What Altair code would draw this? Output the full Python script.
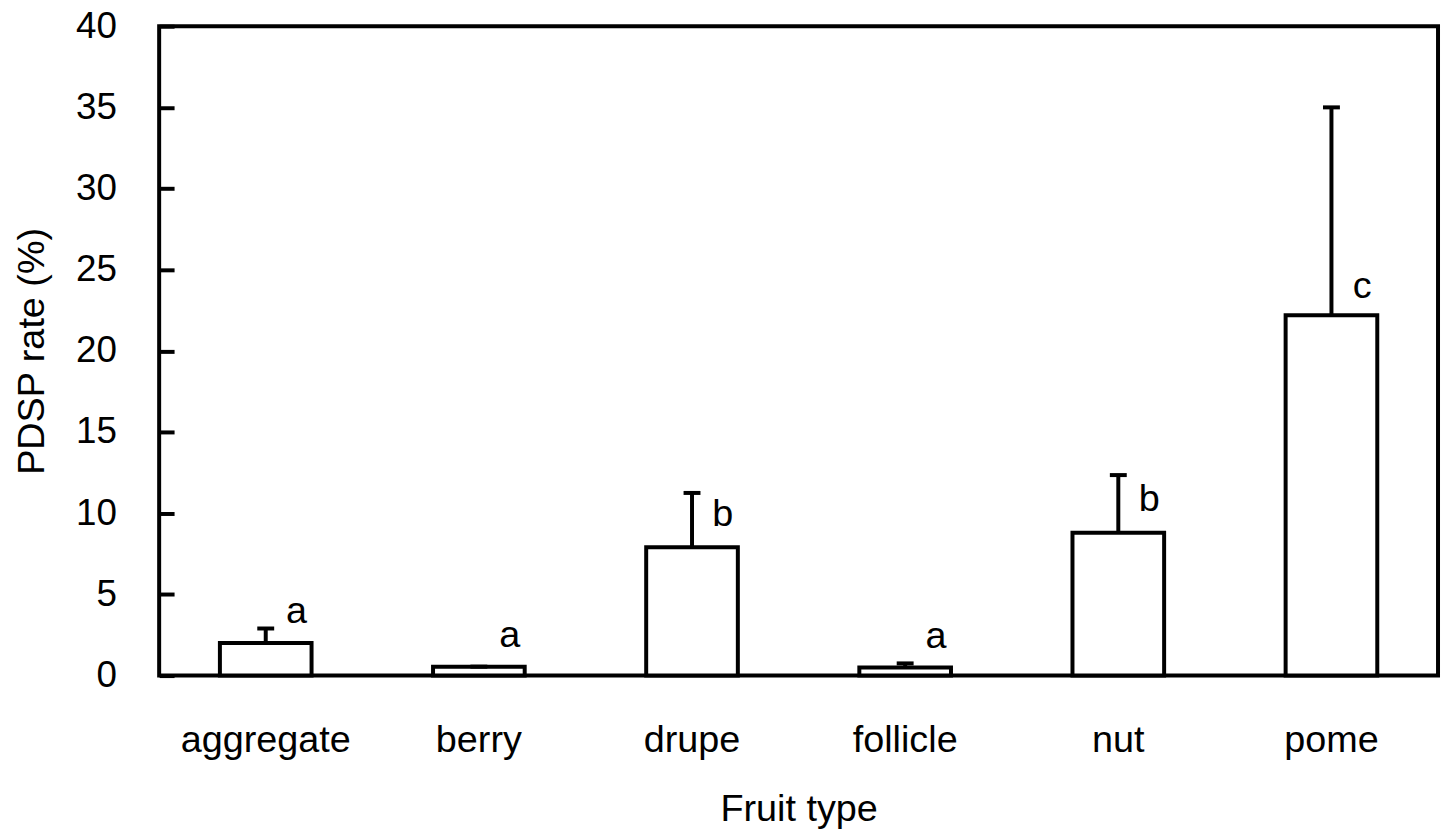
import altair as alt
import pandas as pd

fruit = ["aggregate", "berry", "drupe", "follicle", "nut", "pome"]
rate = [2.0, 0.55, 7.9, 0.5, 8.8, 22.2]
upper = [2.9, 0.55, 11.25, 0.75, 12.35, 35.0]
letters = ["a", "a", "b", "a", "b", "c"]
letter_y = [3.9, 2.45, 9.9, 2.4, 10.8, 23.95]
y_ticks = [0, 5, 10, 15, 20, 25, 30, 35, 40]

df = pd.DataFrame(dict(fruit=fruit, rate=rate, upper=upper,
                       letter=letters, letter_y=letter_y))

FONT = "Liberation Sans"

x_enc = alt.X(
    "fruit:N", sort=fruit, title="Fruit type",
    scale=alt.Scale(paddingInner=0.57, paddingOuter=0.285),
    axis=alt.Axis(labelAngle=0, ticks=False, tickSize=0, domain=False,
                  labelPadding=46, titlePadding=32,
                  labelFontSize=38, titleFontSize=38),
)

y_scale = alt.Scale(domain=[0, 40], nice=False, zero=True)
y_axis = alt.Axis(values=y_ticks, tickSize=15, tickWidth=4, tickColor="black",
                  offset=-15, domain=False, grid=False, labelPadding=43,
                  labelFontSize=37, titleFontSize=38, titlePadding=24)
Y_TITLE = "PDSP rate (%)"

base = alt.Chart(df)

bars = base.mark_bar(fill="white", stroke="black", strokeWidth=4).encode(
    x=x_enc,
    y=alt.Y("rate:Q", scale=y_scale, axis=y_axis, title=Y_TITLE),
)

err = base.mark_rule(color="black", strokeWidth=4).encode(
    x=x_enc,
    y=alt.Y("rate:Q", scale=y_scale, axis=y_axis, title=Y_TITLE),
    y2="upper:Q",
)

caps = base.mark_tick(color="black", size=17, thickness=4, opacity=1).encode(
    x=x_enc,
    y=alt.Y("upper:Q", scale=y_scale, axis=y_axis, title=Y_TITLE),
)

labels = base.mark_text(font=FONT, fontSize=38, dx=31, baseline="middle",
                        align="center", color="black").encode(
    x=x_enc,
    y=alt.Y("letter_y:Q", scale=y_scale, axis=y_axis, title=Y_TITLE),
    text="letter:N",
)

chart = alt.layer(bars, err, caps, labels).properties(
    width=1286, height=653,
    background="white",
    autosize=alt.AutoSizeParams(type="none"),
    padding={"left": 152, "top": 16, "right": 4, "bottom": 156},
).configure_view(
    stroke="black", strokeWidth=4
).configure_axis(
    labelFont=FONT, titleFont=FONT, labelColor="black", titleColor="black",
    titleFontWeight="normal"
)

chart.save("out.html", embed_options={"renderer": "svg", "actions": False})
